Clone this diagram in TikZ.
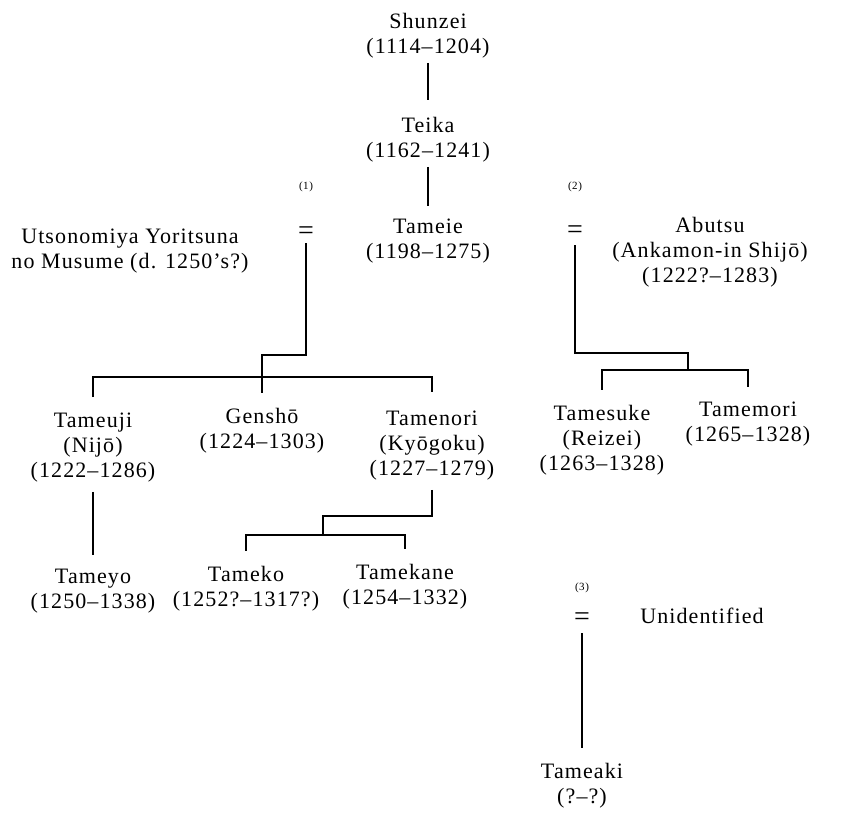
\documentclass[tikz,border=0pt]{standalone}
\usepackage{fontspec}
\setmainfont{Liberation Serif}[LetterSpace=5]
\begin{document}
\begin{tikzpicture}[x=1pt,y=-1pt,
  person/.style={align=center,inner sep=0pt,anchor=base,font=\fontsize{22}{25}\selectfont},
  marriage/.style={inner sep=0pt,anchor=base,font=\fontsize{28}{30}\selectfont},
  note/.style={inner sep=0pt,anchor=center,font=\fontsize{11}{12}\selectfont},
  link/.style={line width=1.7pt}]
\useasboundingbox (0,0) rectangle (841,814);
% people (positions are baselines of the last line)
\node[person] (shunzei) at (428,53) {Shunzei\\(1114--1204)};
\node[person] (teika) at (428,157) {Teika\\(1162--1241)};
\node[person] (tameie) at (428,258) {Tameie\\(1198--1275)};
\node[person] (uts) at (130,268) {Utsonomiya Yoritsuna\\no Musume (d. 1250’s?)};
\node[person] (abutsu) at (710,282) {Abutsu\\(Ankamon-in Shijō)\\(1222?--1283)};
\node[person] (tameuji) at (93,477) {Tameuji\\(Nijō)\\(1222--1286)};
\node[person] (gensho) at (262,448) {Genshō\\(1224--1303)};
\node[person] (tamenori) at (432,475) {Tamenori\\(Kyōgoku)\\(1227--1279)};
\node[person] (tamesuke) at (602,470) {Tamesuke\\(Reizei)\\(1263--1328)};
\node[person] (tamemori) at (748,441) {Tamemori\\(1265--1328)};
\node[person] (tameyo) at (93,608) {Tameyo\\(1250--1338)};
\node[person] (tameko) at (246,606) {Tameko\\(1252?--1317?)};
\node[person] (tamekane) at (405,604) {Tamekane\\(1254--1332)};
\node[person] (unid) at (702,623) {Unidentified};
\node[person] (tameaki) at (582,803) {Tameaki\\(?--?)};
% marriages
\node[marriage] (eq1) at (306,239) {=};
\node[note] (n1) at (306,187) {(1)};
\node[marriage] (eq2) at (575,238) {=};
\node[note] (n2) at (575,187) {(2)};
\node[marriage] (eq3) at (582,625) {=};
\node[note] (n3) at (582,588) {(3)};
% junctions
\coordinate (j1) at (262,355);
\coordinate (bar1) at (262,377);
\coordinate (j2) at (688,353);
\coordinate (bar2) at (688,370);
\coordinate (j3) at (323,516);
\coordinate (bar3) at (323,535);
% connectors
\draw[link] ([yshift=-5pt]shunzei.south) -- ([yshift=17pt]teika.north);
\draw[link] ([yshift=-5pt]teika.south) -- ([yshift=12pt]tameie.north);
\draw[link] ([yshift=-4pt]eq1.south) |- (j1) -- ([yshift=15pt]gensho.north);
\draw[link] ([yshift=15pt]tameuji.north) |- (bar1) -| ([yshift=18pt]tamenori.north);
\draw[link] ([yshift=-7pt]eq2.south) |- (j2) -- (bar2);
\draw[link] ([yshift=15pt]tamesuke.north) |- (bar2) -| ([yshift=14pt]tamemori.north);
\draw[link] ([yshift=-10pt]tameuji.south) -- ([yshift=13pt]tameyo.north);
\draw[link] ([yshift=-10pt]tamenori.south) |- (j3) -- (bar3);
\draw[link] ([yshift=15pt]tameko.north) |- (bar3) -| ([yshift=15pt]tamekane.north);
\draw[link] ([yshift=-8pt]eq3.south) -- ([yshift=15pt]tameaki.north);
\end{tikzpicture}
\end{document}
